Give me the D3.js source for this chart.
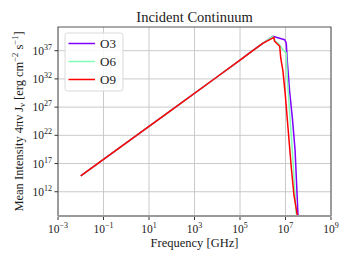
<!DOCTYPE html>
<html lang="en">
  <head>
    <meta charset="UTF-8" />
    <title>Incident Continuum</title>
    <script src="https://cdn.jsdelivr.net/npm/d3@7"></script>
    <style>
      * { margin: 0; padding: 0; }
      body { background: #fff; }
      svg text { font-family: "Liberation Serif", "DejaVu Serif", serif; fill: #1a1a1a; }
    </style>
  </head>
  <body>
    <svg id="chart" width="352" height="264"></svg>
    <script>
      // frequencies [GHz] and 4 pi nu J_nu values
      const riseFreq = [1e-2, 1e0, 1e2, 1e4, 1e5, 3.16e5, 1e6];
      const riseVal = [6.3e14, 4.6e20, 3.3e26, 2.4e32, 2.2e35, 7.1e36, 2.0e38];

      const o3Freq = [2.75e6, 9.2e6, 1.08e7, 1.2e7, 1.51e7, 2.04e7, 2.63e7, 3.16e7, 3.55e7];
      const o3Val = [3.5e39, 8.9e38, 2.3e38, 1.3e35, 7.4e29, 5.5e24, 2.7e19, 2.2e12, 5.6e7];

      const o6Freq = [2.75e6, 3.63e6, 4.68e6, 7.76e6, 1.08e7, 1.2e7, 1.51e7, 2.14e7, 2.95e7];
      const o6Val = [3.5e39, 4.6e38, 2.3e38, 1.5e37, 4.0e36, 1.5e32, 1.9e26, 2.7e17, 9.5e7];

      const o9Freq = [3.09e6, 3.31e6, 5.56e6, 6.17e6, 7.76e6, 9.77e6, 1.29e7, 1.8e7, 2.34e7, 3.31e7];
      const o9Val = [2.3e39, 4.6e38, 6.0e37, 5.1e35, 2.2e33, 1.6e29, 2.0e23, 1.8e16, 3.2e11, 5.6e7];

      const series = [
        { name: "O3", color: "#8000ff", freq: riseFreq.concat(o3Freq), val: riseVal.concat(o3Val) },
        { name: "O6", color: "#80ffb4", freq: riseFreq.concat(o6Freq), val: riseVal.concat(o6Val) },
        { name: "O9", color: "#ff0000", freq: riseFreq.concat(o9Freq), val: riseVal.concat(o9Val) }
      ];

      const xTicks = [-3, -1, 1, 3, 5, 7, 9];
      const yTicks = [12, 17, 22, 27, 32, 37];

      const margin = { top: 27, right: 21, bottom: 48, left: 58 };
      const width = 352, height = 264;
      const innerW = width - margin.left - margin.right;
      const innerH = height - margin.top - margin.bottom;

      const svg = d3.select("#chart");
      const x = d3.scaleLog().domain([1e-3, 1e9]).range([0, innerW]);
      const y = d3.scaleLog().domain([Math.pow(10, 7.7), Math.pow(10, 41.2)]).range([innerH, 0]);

      svg.append("defs").append("clipPath").attr("id", "clip")
        .append("rect").attr("width", innerW).attr("height", innerH);

      const g = svg.append("g").attr("transform", `translate(${margin.left},${margin.top})`);

      // grid
      g.append("g").selectAll("line").data(xTicks).join("line")
        .attr("x1", d => x(Math.pow(10, d))).attr("x2", d => x(Math.pow(10, d)))
        .attr("y1", 0).attr("y2", innerH)
        .attr("stroke", "#c4c4c4").attr("stroke-width", 0.9);
      g.append("g").selectAll("line").data(yTicks).join("line")
        .attr("y1", d => y(Math.pow(10, d))).attr("y2", d => y(Math.pow(10, d)))
        .attr("x1", 0).attr("x2", innerW)
        .attr("stroke", "#c4c4c4").attr("stroke-width", 0.9);

      // lines
      const line = d3.line().x(d => x(d[0])).y(d => y(d[1]));
      g.append("g").attr("clip-path", "url(#clip)").selectAll("path").data(series).join("path")
        .attr("d", s => line(d3.zip(s.freq, s.val)))
        .attr("fill", "none").attr("stroke", s => s.color)
        .attr("stroke-width", 1.5).attr("stroke-linejoin", "round");

      // spines
      g.append("rect").attr("width", innerW).attr("height", innerH)
        .attr("fill", "none").attr("stroke", "#444").attr("stroke-width", 0.9);
      g.append("line").attr("x1", 0).attr("x2", innerW).attr("y1", innerH).attr("y2", innerH)
        .attr("stroke", "#999").attr("stroke-width", 2.2);

      // x ticks
      const xt = g.append("g").selectAll("g").data(xTicks).join("g")
        .attr("transform", d => `translate(${x(Math.pow(10, d))},${innerH})`);
      xt.append("line").attr("y1", 1).attr("y2", 4).attr("stroke", "#333");
      const xl = xt.append("text").attr("y", 17).attr("text-anchor", "middle").attr("font-size", 11.5);
      xl.append("tspan").text("10");
      xl.append("tspan").attr("dy", -5).attr("font-size", 8).text(d => d < 0 ? "\u2212" + (-d) : d);

      // y ticks
      const yt = g.append("g").selectAll("g").data(yTicks).join("g")
        .attr("transform", d => `translate(0,${y(Math.pow(10, d))})`);
      yt.append("line").attr("x1", 0).attr("x2", -3.5).attr("stroke", "#333");
      const yl = yt.append("text").attr("x", -6).attr("y", 4).attr("text-anchor", "end").attr("font-size", 11.5);
      yl.append("tspan").text("10");
      yl.append("tspan").attr("dy", -5).attr("font-size", 8).text(d => d);

      // title and labels
      svg.append("text").attr("x", margin.left + innerW / 2).attr("y", 22)
        .attr("text-anchor", "middle").attr("font-size", 14.5).text("Incident Continuum");

      svg.append("text").attr("x", margin.left + innerW / 2).attr("y", 247)
        .attr("text-anchor", "middle").attr("font-size", 12.5).text("Frequency [GHz]");

      const yLab = svg.append("text")
        .attr("transform", `translate(23,${margin.top + innerH / 2}) rotate(-90)`)
        .attr("text-anchor", "middle").attr("font-size", 12.5);
      yLab.append("tspan").text("Mean Intensity 4\u03c0\u03bd J");
      yLab.append("tspan").attr("font-size", 8.5).attr("dy", 2).text("\u03bd");
      yLab.append("tspan").attr("dy", -2).text(" [erg cm");
      yLab.append("tspan").attr("font-size", 8.5).attr("dy", -5).text("\u22122");
      yLab.append("tspan").attr("dy", 5).text(" s");
      yLab.append("tspan").attr("font-size", 8.5).attr("dy", -5).text("\u22121");
      yLab.append("tspan").attr("dy", 5).text("]");

      // legend
      const leg = g.append("g").attr("transform", "translate(7,6)");
      leg.append("rect").attr("width", 58).attr("height", 58).attr("rx", 2.5)
        .attr("fill", "#fff").attr("fill-opacity", 0.85)
        .attr("stroke", "#d6d6d6").attr("stroke-width", 0.9);
      const item = leg.selectAll("g").data(series).join("g")
        .attr("transform", (d, i) => `translate(0,${10.5 + i * 18})`);
      item.append("line").attr("x1", 3.5).attr("x2", 30).attr("stroke", d => d.color).attr("stroke-width", 1.5);
      item.append("text").attr("x", 35).attr("y", 4.5).attr("font-size", 13).text(d => d.name);
    </script>
  </body>
</html>
